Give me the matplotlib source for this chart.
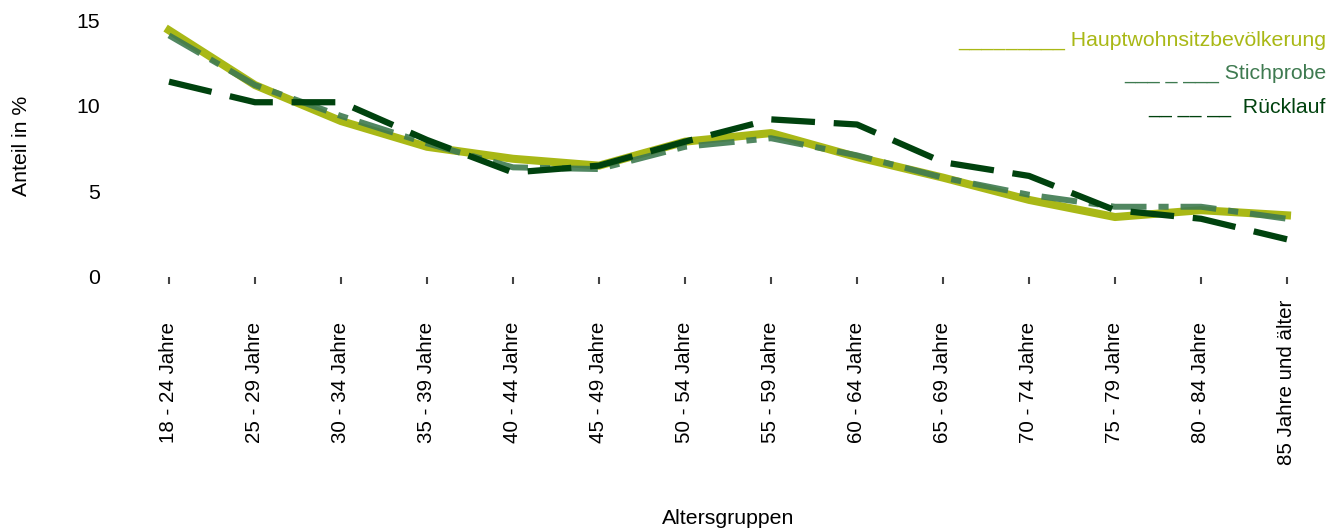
import numpy as np
import matplotlib
matplotlib.use('Agg')
import matplotlib.pyplot as plt

plt.rcParams['font.family'] = ['Liberation Sans', 'DejaVu Sans']

altersgruppen = ['18 - 24 Jahre', '25 - 29 Jahre', '30 - 34 Jahre', '35 - 39 Jahre',
                 '40 - 44 Jahre', '45 - 49 Jahre', '50 - 54 Jahre', '55 - 59 Jahre',
                 '60 - 64 Jahre', '65 - 69 Jahre', '70 - 74 Jahre', '75 - 79 Jahre',
                 '80 - 84 Jahre', '85 Jahre und älter']
hauptwohnsitz = [14.4, 11.2, 9.1, 7.6, 6.9, 6.5, 7.9, 8.4, 7.0, 5.8, 4.5, 3.5, 3.9, 3.6]
stichprobe = [14.1, 11.2, 9.4, 7.8, 6.4, 6.3, 7.6, 8.1, 7.1, 5.8, 4.8, 4.1, 4.1, 3.4]
ruecklauf = [11.4, 10.2, 10.2, 8.0, 6.1, 6.5, 7.9, 9.2, 8.9, 6.7, 5.9, 3.9, 3.4, 2.2]

c_haupt = '#a9b816'
c_stich = '#3e7a50'
c_rueck = '#00420e'
fs = 15.3

fig = plt.figure(figsize=(13.31, 5.31), dpi=100)
ax = fig.add_axes([169/1331, 1 - 277/531, (1287 - 169)/1331, 257/531])

x = np.arange(len(altersgruppen))
ax.plot(x, hauptwohnsitz, color=c_haupt, lw=5.8, solid_joinstyle='round', clip_on=False)
ax.plot(x, stichprobe, color=c_stich, lw=4.3, alpha=0.9, dashes=(6, 2, 1.7, 2), clip_on=False)
ax.plot(x, ruecklauf, color=c_rueck, lw=4.5, dashes=(7, 3), clip_on=False)

ax.set_xlim(0, len(altersgruppen) - 1)
ax.set_ylim(0, 15)
ax.set_yticks([0, 5, 10, 15])
ax.set_xticks(x)
ax.set_xticklabels(altersgruppen, rotation=90, fontsize=14.8, va='center', ha='center')
ax.tick_params(axis='x', length=5, width=1.5, color='#444444', pad=71)
ax.tick_params(axis='y', length=0, pad=50, labelsize=fs)
for s in ax.spines.values():
    s.set_visible(False)

fig.text(22/1331, 1 - 146/531, 'Anteil in %', rotation=90, ha='center', va='center', fontsize=fs)
fig.text(728/1331, 1 - 519/531, 'Altersgruppen', ha='center', va='center', fontsize=fs)

# legend as text, like the original
fig.text(1326/1331, 1 - 40/531, '_________ Hauptwohnsitzbevölkerung', color=c_haupt,
         ha='right', va='center', fontsize=fs)
fig.text(1326/1331, 1 - 73/531, '___ _ ___ Stichprobe', color=c_stich,
         ha='right', va='center', fontsize=fs)
fig.text(1326/1331, 1 - 107/531, '__ __ __  Rücklauf', color=c_rueck,
         ha='right', va='center', fontsize=fs)

fig.savefig('out.png', dpi=100)
